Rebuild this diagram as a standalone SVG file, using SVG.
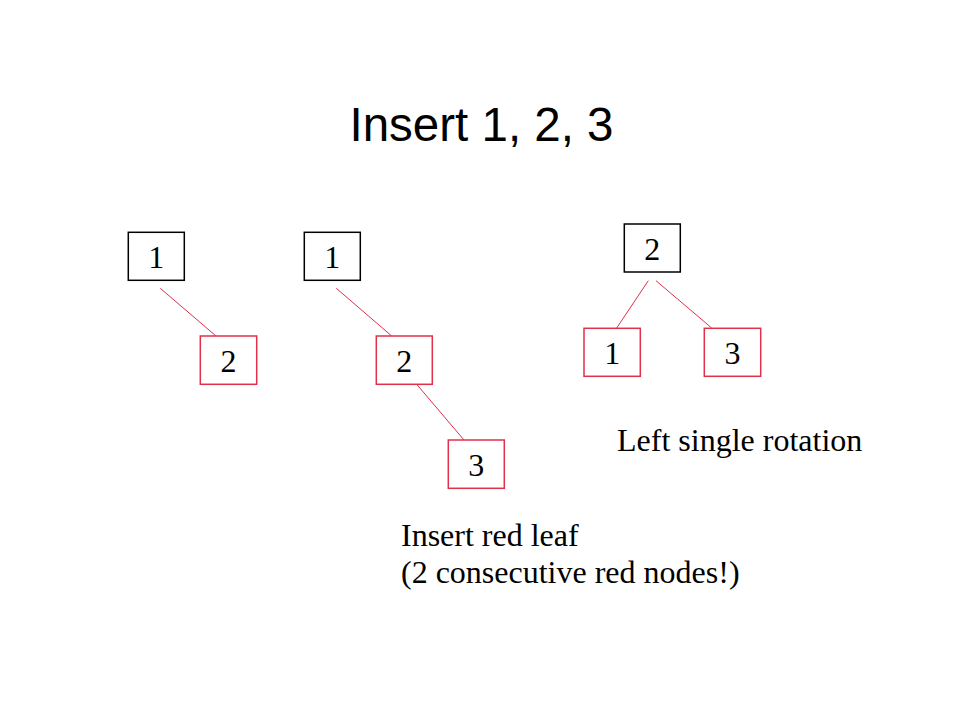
<svg xmlns="http://www.w3.org/2000/svg" width="960" height="720" viewBox="0 0 960 720">
<style>
.blk{fill:#fff;stroke:#000;stroke-width:1.5}
.red{fill:#fff;stroke:#e0304a;stroke-width:1.5}
.edge{stroke:#e0304a;stroke-width:1;fill:none}
.num{font-family:"Liberation Serif",serif;font-size:32px;text-anchor:middle;fill:#000}
.lbl{font-family:"Liberation Serif",serif;font-size:32px;fill:#000}
.title{font-family:"Liberation Sans",sans-serif;font-size:47.5px;text-anchor:middle;fill:#000}
</style>
<rect width="960" height="720" fill="#fff"/>
<text class="title" x="481.5" y="141">Insert 1, 2, 3</text>
<g id="connectors">
<line class="edge" x1="160.3" y1="288.3" x2="216" y2="336"/>
<line class="edge" x1="336.3" y1="288.3" x2="391.7" y2="336"/>
<line class="edge" x1="416.7" y1="384.3" x2="464" y2="440"/>
<line class="edge" x1="648.3" y1="280.7" x2="616.7" y2="328"/>
<line class="edge" x1="656" y1="280.7" x2="711.7" y2="328"/>
</g>
<g id="a1"><rect class="blk" x="128.3" y="232.3" width="56" height="48"/><text class="num" x="156.3" y="268.3">1</text></g>
<g id="a2"><rect class="red" x="200.3" y="336" width="56.4" height="48.3"/><text class="num" x="228.5" y="372">2</text></g>
<g id="b1"><rect class="blk" x="304.3" y="232.3" width="56" height="48"/><text class="num" x="332.3" y="268.3">1</text></g>
<g id="b2"><rect class="red" x="376.3" y="336" width="56" height="48.3"/><text class="num" x="404.3" y="372">2</text></g>
<g id="b3"><rect class="red" x="448.3" y="440" width="56" height="48.3"/><text class="num" x="476.3" y="476">3</text></g>
<g id="c2"><rect class="blk" x="624.3" y="224" width="56" height="48"/><text class="num" x="652.3" y="260">2</text></g>
<g id="c1"><rect class="red" x="584" y="328.3" width="56.3" height="48"/><text class="num" x="612.2" y="364.3">1</text></g>
<g id="c3"><rect class="red" x="704.3" y="328.3" width="56.4" height="48"/><text class="num" x="732.5" y="364.3">3</text></g>
<text class="lbl" x="617" y="450.7">Left single rotation</text>
<text class="lbl" x="401" y="546">Insert red leaf</text>
<text class="lbl" x="401" y="583">(2 consecutive red nodes!)</text>
</svg>
